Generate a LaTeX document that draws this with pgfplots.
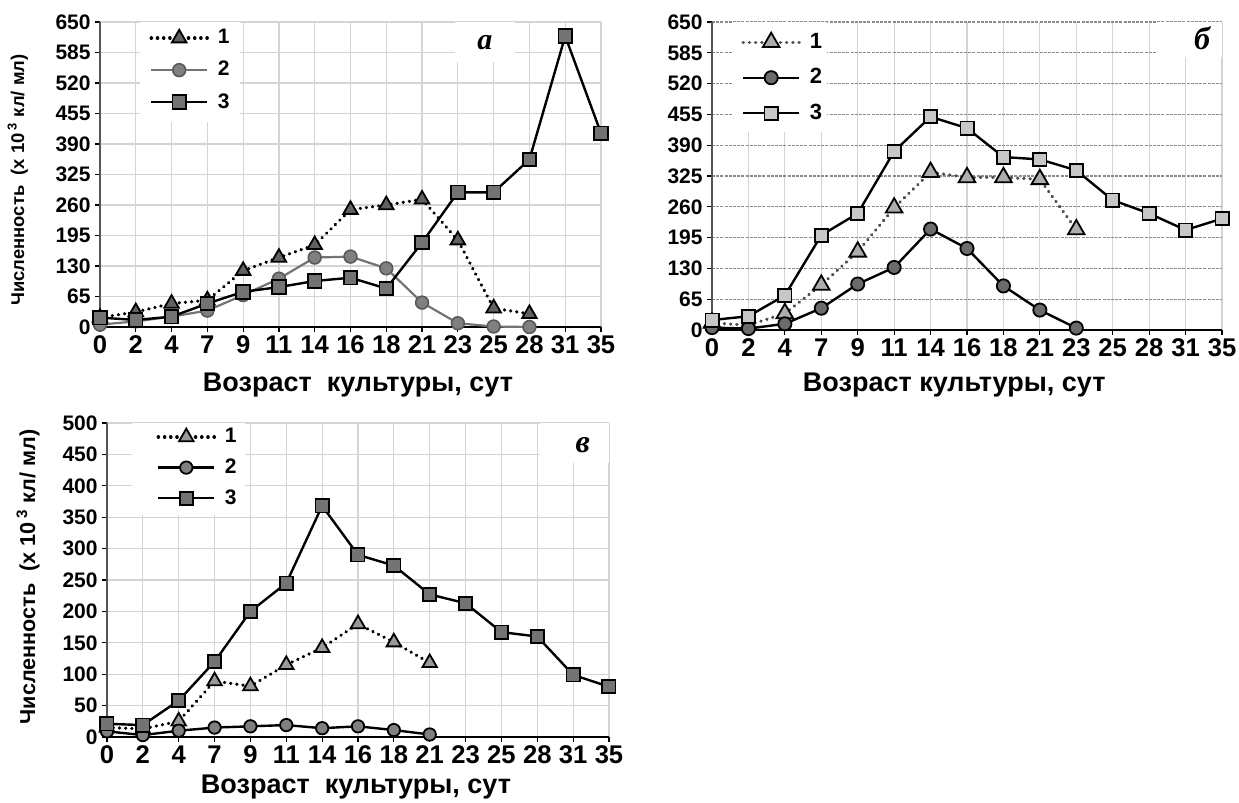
\documentclass[border=0pt]{standalone}
\usepackage{pgfplots}
\pgfplotsset{compat=1.18}
\usepackage{fontspec}
\setmainfont{Liberation Sans}
\newfontfamily\serifbi{Liberation Serif}
\definecolor{gridc}{HTML}{D4D4D4}
\definecolor{ax}{HTML}{555555}
\begin{document}
\begin{tikzpicture}
\useasboundingbox (0,0) rectangle (619.5pt,401.5pt);
\pgfplotsset{
  panel/.style={
    scale only axis, clip=false,
    xmin=0, xmax=14,
    xtick={0,...,14},
    xticklabels={0,2,4,7,9,11,14,16,18,21,23,25,28,31,35},
    axis x line*=bottom, axis y line*=left,
    x axis line style={black, line width=0.9pt},
    y axis line style={ax, line width=0.9pt},
    tick align=outside, major tick length=2.5pt,
    tick style={black, line width=0.6pt},
    /pgf/number format/assume math mode=true,
    xmajorgrids, ymajorgrids,
    grid style={gridc, line width=0.6pt},
    xticklabel style={font=\bfseries\fontsize{12.8}{12.8}\selectfont, inner sep=1.5pt},
    yticklabel style={font=\bfseries\fontsize{10.5}{10.5}\selectfont, inner sep=2pt},
    legend cell align=left,
    legend image code/.code={\draw[mark repeat=2,mark phase=2,#1] plot coordinates {(0pt,0pt) (14pt,0pt) (28pt,0pt)};},
  },
  s1/.style={dash pattern=on 0.1pt off 3pt, line cap=round, line width=1.7pt, mark=triangle*},
  sq/.style={line width=1.2pt, black, mark=square*},
  ci/.style={line width=1.2pt, black, mark=*},
}

% ---------------- panel a ----------------
\begin{axis}[panel, at={(50pt,238pt)}, anchor=south west, width=250.5pt, height=152.5pt,
  ymin=0, ymax=650, ytick={0,65,130,195,260,325,390,455,520,585,650},
  xlabel={Возраст\ \ культуры, сут},
  xlabel style={font=\bfseries\fontsize{13.5}{13.5}\selectfont, at={(axis description cs:0.515,-0.19)}, anchor=center},
  ylabel={Численность\ \ (x 10\,\textsuperscript{3} кл/ мл)},
  ylabel style={font=\bfseries\fontsize{9.2}{9.2}\selectfont, at={(axis description cs:-0.164,0.482)}, anchor=center},
  legend style={at={(axis description cs:0.098,0.99)}, anchor=north west, draw=none, fill=white,
    inner xsep=0pt, inner ysep=0pt, row sep=3.2pt, column sep=2.5pt, font=\bfseries\fontsize{10.5}{10.5}\selectfont},
]
\fill[white] (axis description cs:0.08,0.672) rectangle (axis description cs:0.28,1.0);
\fill[white] (axis description cs:0.709,0.869) rectangle (axis description cs:0.828,1.0);
\addplot[s1, black, mark size=4.2pt, mark options={solid, fill=black!62, draw=black, line width=0.9pt}] coordinates {
(0,20)(1,32)(2,50)(3,57)(4,120)(5,148)(6,175)(7,250)(8,260)(9,272)(10,185)(11,40)(12,28)};
\addlegendentry{1}
\addplot[line width=1.1pt, black!55, mark=*, mark size=3.2pt, mark options={solid, fill=black!50, draw=black!65, line width=0.8pt}] coordinates {
(0,5)(1,12)(2,22)(3,35)(4,68)(5,103)(6,148)(7,150)(8,125)(9,52)(10,8)(11,1)(12,0)};
\addlegendentry{2}
\addplot[sq, mark size=3.4pt, mark options={solid, fill=black!55, draw=black, line width=0.9pt}] coordinates {
(0,20)(1,15)(2,22)(3,50)(4,75)(5,85)(6,98)(7,105)(8,82)(9,180)(10,287)(11,287)(12,357)(13,620)(14,413)};
\addlegendentry{3}
\node[font=\serifbi\bfseries\itshape\fontsize{15}{15}\selectfont] at (axis description cs:0.768,0.931) {a};
\end{axis}

% ---------------- panel b ----------------
\begin{axis}[panel, at={(356pt,236.5pt)}, anchor=south west, width=255pt, height=154pt,
  ymin=0, ymax=650, ytick={0,65,130,195,260,325,390,455,520,585,650},
  y grid style={black!45, line width=0.6pt, dash pattern=on 1.5pt off 0.6pt},
  x grid style={gridc, line width=0.6pt},
  xlabel={Возраст культуры, сут},
  xlabel style={font=\bfseries\fontsize{13.5}{13.5}\selectfont, at={(axis description cs:0.475,-0.18)}, anchor=center},
  legend style={at={(axis description cs:0.057,0.978)}, anchor=north west, draw=none, fill=white,
    inner xsep=0pt, inner ysep=0pt, row sep=4.6pt, column sep=2.5pt, font=\bfseries\fontsize{11}{11}\selectfont},
]
\fill[white] (axis description cs:0.041,0.643) rectangle (axis description cs:0.225,1.0);
\fill[white] (axis description cs:0.873,0.886) rectangle (axis description cs:1.0,1.0);
\addplot[s1, black!70, mark size=4.8pt, mark options={solid, fill=black!32, draw=black, line width=0.9pt}] coordinates {
(0,15)(1,10)(2,35)(3,95)(4,165)(5,258)(6,333)(7,322)(8,322)(9,318)(10,212)};
\addlegendentry{1}
\addplot[ci, mark size=3.3pt, mark options={solid, fill=black!58, draw=black, line width=0.9pt}] coordinates {
(0,5)(1,3)(2,13)(3,46)(4,97)(5,132)(6,213)(7,172)(8,93)(9,42)(10,4)};
\addlegendentry{2}
\addplot[sq, mark size=3.3pt, mark options={solid, fill=black!22, draw=black, line width=0.9pt}] coordinates {
(0,21)(1,29)(2,73)(3,200)(4,246)(5,377)(6,450)(7,426)(8,365)(9,360)(10,337)(11,274)(12,246)(13,211)(14,235)};
\addlegendentry{3}
\node[font=\serifbi\bfseries\itshape\fontsize{16}{16}\selectfont] at (axis description cs:0.961,0.948) {б};
\end{axis}

% ---------------- panel c ----------------
\begin{axis}[panel, at={(53.5pt,33pt)}, anchor=south west, width=251pt, height=157pt,
  ymin=0, ymax=500, ytick={0,50,...,500},
  xlabel={Возраст\ \ культуры, сут},
  xlabel style={font=\bfseries\fontsize{13.5}{13.5}\selectfont, at={(axis description cs:0.496,-0.16)}, anchor=center},
  ylabel={Численность\ \ (x 10\,\textsuperscript{3} кл/ мл)},
  ylabel style={font=\bfseries\fontsize{10.8}{10.8}\selectfont, at={(axis description cs:-0.157,0.51)}, anchor=center},
  legend style={at={(axis description cs:0.098,0.997)}, anchor=north west, draw=none, fill=white,
    inner xsep=0pt, inner ysep=0pt, row sep=2.5pt, column sep=2.5pt, font=\bfseries\fontsize{10.5}{10.5}\selectfont},
]
\fill[white] (axis description cs:0.05,0.707) rectangle (axis description cs:0.275,1.0);
\fill[white] (axis description cs:0.863,0.873) rectangle (axis description cs:1.0,1.0);
\addplot[s1, black, mark size=4.2pt, mark options={solid, fill=black!40, draw=black, line width=0.9pt}] coordinates {
(0,15)(1,13)(2,25)(3,89)(4,81)(5,115)(6,142)(7,180)(8,151)(9,118)};
\addlegendentry{1}
\addplot[ci, mark size=3.1pt, mark options={solid, fill=black!50, draw=black, line width=0.9pt}] coordinates {
(0,9)(1,3)(2,10)(3,15)(4,17)(5,19)(6,14)(7,17)(8,11)(9,4)};
\addlegendentry{2}
\addplot[sq, mark size=3.3pt, mark options={solid, fill=black!55, draw=black, line width=0.9pt}] coordinates {
(0,21)(1,19)(2,58)(3,120)(4,200)(5,245)(6,368)(7,290)(8,273)(9,227)(10,213)(11,167)(12,160)(13,99)(14,80)};
\addlegendentry{3}
\node[font=\serifbi\bfseries\itshape\fontsize{16}{16}\selectfont] at (axis description cs:0.948,0.930) {в};
\end{axis}
\end{tikzpicture}
\end{document}
